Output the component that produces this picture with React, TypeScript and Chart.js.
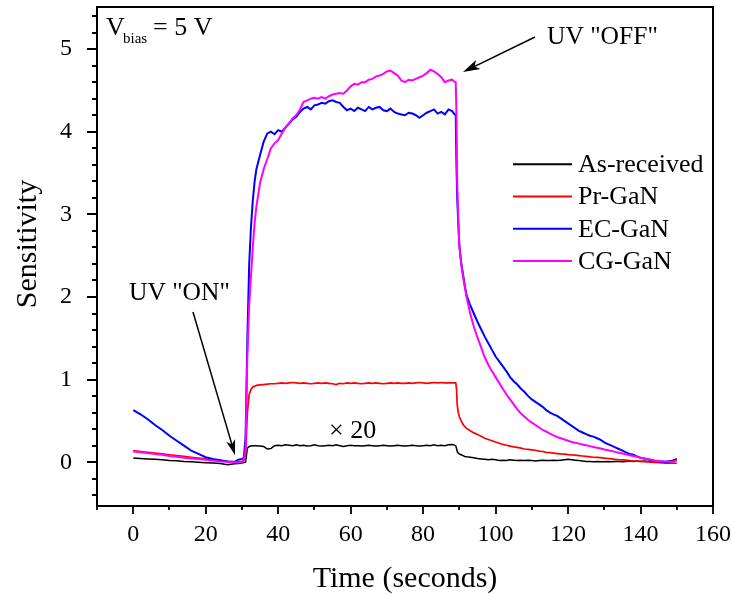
import { useEffect, useRef } from "react";
import { Chart, registerables } from "chart.js";

Chart.register(...registerables);

// ---------- data ----------
const timeSec = [
  0, 2, 4, 6, 8, 10, 12, 14, 16, 18, 20, 22, 24, 26, 28,
  29, 30, 30.5, 31, 31.5, 32, 32.5, 33, 33.5, 34,
  35, 36, 37, 38, 39, 40, 41, 42, 43, 44,
  45, 46, 47, 48, 49, 50, 51, 52, 53, 54,
  55, 56, 57, 58, 59, 60, 61, 62, 63, 64,
  65, 66, 67, 68, 69, 70, 71, 72, 73, 74,
  75, 76, 77, 78, 79, 80, 81, 82, 83, 84,
  85, 86, 87, 88,
  88.5, 89, 89.2, 89.4, 89.7, 90, 90.5, 91, 91.5, 92,
  93, 94, 95, 96, 97, 98, 99, 100, 101, 102,
  103, 104, 105, 106, 107, 108, 109, 110, 111, 112,
  113, 114, 115, 116, 117, 118, 119, 120, 121, 122,
  123, 124, 125, 126, 127, 128, 129, 130, 131, 132,
  133, 134, 135, 136, 137, 138, 139, 140, 141, 142,
  143, 144, 145, 146, 147, 148, 149, 150,
];

const asReceivedX20 = [
  0.05, 0.045, 0.04, 0.035, 0.03, 0.02, 0.018, 0.01, 0.005, 0.0, -0.005, -0.01, -0.015, -0.03, -0.02,
  -0.015, -0.01, -0.005, 0.0, 0.17, 0.19, 0.195, 0.2, 0.2, 0.2,
  0.195, 0.19, 0.16, 0.165, 0.2, 0.205, 0.2, 0.21, 0.205, 0.2,
  0.21, 0.2, 0.205, 0.195, 0.2, 0.21, 0.2, 0.195, 0.2, 0.205,
  0.2, 0.21, 0.2, 0.19, 0.2, 0.205, 0.2, 0.2, 0.195, 0.2,
  0.205, 0.2, 0.195, 0.2, 0.205, 0.2, 0.195, 0.2, 0.205, 0.2,
  0.195, 0.2, 0.205, 0.2, 0.195, 0.2, 0.205, 0.2, 0.21, 0.2,
  0.205, 0.2, 0.21, 0.215,
  0.21, 0.2, 0.17, 0.13, 0.11, 0.1, 0.09, 0.08, 0.07, 0.065,
  0.06, 0.055, 0.045, 0.04, 0.035, 0.03, 0.035, 0.03, 0.02, 0.025,
  0.02, 0.03, 0.025, 0.02, 0.025, 0.02, 0.025, 0.02, 0.015, 0.02,
  0.025, 0.02, 0.02, 0.025, 0.02, 0.025, 0.03, 0.035, 0.03, 0.025,
  0.02, 0.015, 0.01, 0.01, 0.005, 0.01, 0.005, 0.005, 0.01, 0.005,
  0.01, 0.01, 0.005, 0.01, 0.015, 0.01, 0.015, 0.01, 0.015, 0.01,
  0.015, 0.01, 0.005, 0.01, 0.01, 0.015, 0.02, 0.035,
];

const prGaN = [
  0.14, 0.13, 0.12, 0.11, 0.1, 0.09, 0.08, 0.07, 0.06, 0.05, 0.04, 0.03, 0.02, 0.01, 0.005,
  0.005, 0.01, 0.02, 0.1, 0.6, 0.82, 0.88, 0.91, 0.92, 0.93,
  0.935, 0.94, 0.945, 0.95, 0.95, 0.955, 0.96, 0.955, 0.96, 0.965,
  0.96, 0.955, 0.96, 0.955, 0.95, 0.955, 0.96, 0.955, 0.96, 0.955,
  0.95, 0.94, 0.955, 0.95, 0.96, 0.955, 0.96, 0.955, 0.95, 0.955,
  0.96, 0.955, 0.96, 0.955, 0.95, 0.955, 0.96, 0.955, 0.96, 0.955,
  0.955, 0.96, 0.955, 0.96, 0.965, 0.96, 0.955, 0.96, 0.965, 0.96,
  0.965, 0.96, 0.96, 0.96,
  0.96, 0.96, 0.9, 0.7, 0.6, 0.55, 0.5, 0.46, 0.43, 0.41,
  0.38, 0.355, 0.335, 0.315, 0.29, 0.275, 0.26, 0.245, 0.23, 0.215,
  0.205, 0.195, 0.185, 0.18, 0.17, 0.16, 0.155, 0.15, 0.145, 0.135,
  0.13, 0.12, 0.115, 0.11, 0.105, 0.1, 0.097, 0.092, 0.088, 0.085,
  0.08, 0.075, 0.07, 0.065, 0.06, 0.058, 0.055, 0.05, 0.045, 0.04,
  0.035, 0.03, 0.028, 0.025, 0.02, 0.015, 0.012, 0.01, 0.006, 0.003,
  0.0, -0.003, -0.005, -0.008, -0.01, -0.012, -0.012, -0.01,
];

const ecGaN = [
  0.63, 0.58, 0.52, 0.45, 0.39, 0.32, 0.26, 0.2, 0.14, 0.1, 0.06, 0.04, 0.025, 0.01, 0.005,
  0.03, 0.04, 0.05, 0.3, 1.5, 2.4, 2.85, 3.17, 3.4, 3.55,
  3.72, 3.88, 3.98, 4.0, 3.97, 4.02, 4.0, 4.05, 4.1, 4.15,
  4.18, 4.24, 4.28, 4.3, 4.27, 4.32, 4.33, 4.35, 4.34, 4.37,
  4.38, 4.36, 4.35, 4.3, 4.26, 4.28, 4.25, 4.29, 4.27, 4.25,
  4.3, 4.27, 4.29, 4.3, 4.26, 4.25, 4.28, 4.24, 4.22, 4.21,
  4.2, 4.23, 4.22, 4.2, 4.17, 4.2, 4.23, 4.25, 4.27, 4.22,
  4.24, 4.21, 4.27, 4.25,
  4.22, 4.2, 3.6, 3.2, 2.9, 2.62, 2.42, 2.28, 2.14, 2.02,
  1.9, 1.8, 1.7, 1.61, 1.52, 1.44, 1.36, 1.28, 1.22, 1.16,
  1.1, 1.03, 0.98, 0.94, 0.89, 0.85, 0.8, 0.76, 0.73, 0.7,
  0.67, 0.63, 0.6, 0.58, 0.56, 0.53, 0.5, 0.47, 0.44, 0.41,
  0.38, 0.36, 0.34, 0.32, 0.31, 0.29, 0.27, 0.24, 0.22, 0.2,
  0.18, 0.16, 0.14, 0.12, 0.1, 0.09, 0.07, 0.055, 0.045, 0.035,
  0.025, 0.015, 0.01, 0.005, 0.0, 0.005, 0.02, 0.04,
];

const cgGaN = [
  0.13, 0.12, 0.11, 0.1, 0.09, 0.075, 0.065, 0.055, 0.045, 0.04, 0.03, 0.02, 0.01, 0.005, 0.0,
  0.0, 0.005, 0.02, 0.15, 1.3, 1.9, 2.25, 2.6, 2.9, 3.1,
  3.38, 3.55, 3.67, 3.8, 3.86, 3.9, 3.98, 4.05, 4.1, 4.16,
  4.2, 4.27, 4.36, 4.38, 4.4, 4.41, 4.4, 4.42, 4.4, 4.43,
  4.45, 4.46, 4.47, 4.46, 4.5, 4.55, 4.58, 4.57, 4.6, 4.6,
  4.63, 4.64, 4.67, 4.68, 4.7, 4.73, 4.74, 4.71, 4.68, 4.62,
  4.6, 4.63, 4.62, 4.64, 4.66, 4.68, 4.71, 4.75, 4.73, 4.7,
  4.66, 4.6, 4.62, 4.63,
  4.61, 4.6, 4.2, 3.4, 2.95, 2.62, 2.4, 2.25, 2.12, 2.0,
  1.8, 1.64, 1.51, 1.39, 1.27, 1.18, 1.1, 1.03, 0.96, 0.89,
  0.82, 0.76, 0.7, 0.64, 0.59, 0.55, 0.51, 0.48, 0.45, 0.42,
  0.39, 0.37, 0.345, 0.325, 0.305, 0.29, 0.275, 0.26, 0.245, 0.235,
  0.225, 0.215, 0.205, 0.195, 0.185, 0.175, 0.165, 0.155, 0.145, 0.135,
  0.125, 0.115, 0.105, 0.095, 0.085, 0.075, 0.065, 0.055, 0.045, 0.04,
  0.03, 0.02, 0.015, 0.01, 0.008, 0.005, 0.01, 0.02,
];

const seriesLabels = ["As-received", "Pr-GaN", "EC-GaN", "CG-GaN"];
const xMajorTicks = [0, 20, 40, 60, 80, 100, 120, 140, 160];
const yMajorTicks = [0, 1, 2, 3, 4, 5];
const xAxisTitle = "Time (seconds)";
const yAxisTitle = "Sensitivity";

// ---------- styles ----------
const FONT = '"Liberation Serif", "Times New Roman", Times, serif';
const seriesStyles = [
  { color: "#000000", width: 1.5 },
  { color: "#ff0000", width: 1.7 },
  { color: "#0000ff", width: 2 },
  { color: "#ff00ff", width: 2 },
];

function drawArrow(ctx: CanvasRenderingContext2D, x1: number, y1: number, x2: number, y2: number, headLen: number, headHalf: number) {
  const ang = Math.atan2(y2 - y1, x2 - x1);
  const c = Math.cos(ang), s = Math.sin(ang);
  const bx = x2 - headLen * c, by = y2 - headLen * s;
  const px = -s, py = c;
  ctx.beginPath();
  ctx.moveTo(x1, y1);
  ctx.lineTo(x2 - headLen * 0.6 * c, y2 - headLen * 0.6 * s);
  ctx.stroke();
  ctx.beginPath();
  ctx.moveTo(x2, y2);
  ctx.lineTo(bx + px * headHalf, by + py * headHalf);
  ctx.lineTo(x2 - headLen * 0.75 * c, y2 - headLen * 0.75 * s);
  ctx.lineTo(bx - px * headHalf, by - py * headHalf);
  ctx.closePath();
  ctx.fill();
}

const decorPlugin = {
  id: "decor",
  afterDatasetsDraw(chart: any) {
    const { ctx, chartArea: a, scales } = chart;
    const xs = scales.x, ys = scales.y;
    const X = (v: number) => xs.getPixelForValue(v);
    const Y = (v: number) => ys.getPixelForValue(v);
    ctx.save();
    ctx.strokeStyle = "#000";
    ctx.fillStyle = "#000";

    // frame
    ctx.lineWidth = 2;
    ctx.strokeRect(a.left, a.top, a.right - a.left, a.bottom - a.top);

    // tick marks (outward, left and bottom)
    ctx.lineWidth = 1.8;
    ctx.beginPath();
    for (const v of yMajorTicks) {
      const y = Math.round(Y(v));
      ctx.moveTo(a.left - 10, y);
      ctx.lineTo(a.left, y);
    }
    for (let k = -2; k <= 27; k++) {
      if (k % 5 === 0) continue;
      const y = Math.round(Y(k * 0.2));
      ctx.moveTo(a.left - 5, y);
      ctx.lineTo(a.left, y);
    }
    for (const v of xMajorTicks) {
      const x = Math.round(X(v));
      ctx.moveTo(x, a.bottom);
      ctx.lineTo(x, a.bottom + 8);
    }
    for (let v = -10; v <= 150; v += 20) {
      const x = Math.round(X(v));
      ctx.moveTo(x, a.bottom);
      ctx.lineTo(x, a.bottom + 4);
    }
    ctx.stroke();

    // legend
    const ds = chart.data.datasets;
    ctx.font = `26px ${FONT}`;
    ctx.textAlign = "left";
    ctx.textBaseline = "middle";
    ds.forEach((d: any, i: number) => {
      const y = 164.3 + i * 32.2;
      ctx.strokeStyle = d.borderColor;
      ctx.lineWidth = 2;
      ctx.beginPath();
      ctx.moveTo(513, y);
      ctx.lineTo(572, y);
      ctx.stroke();
      ctx.fillStyle = "#000";
      ctx.fillText(d.label, 578, y + 1);
    });

    // annotations
    ctx.strokeStyle = "#000";
    ctx.fillStyle = "#000";
    ctx.textBaseline = "alphabetic";
    ctx.textAlign = "left";
    // V_bias = 5 V
    const vbx = X(-7.52), vby = Y(5.171);
    ctx.font = `26px ${FONT}`;
    ctx.fillText("V", vbx, vby);
    ctx.font = `15px ${FONT}`;
    ctx.fillText("bias", vbx + 17, vby + 8);
    ctx.font = `26px ${FONT}`;
    ctx.fillText("= 5 V", vbx + 47, vby);

    // UV "OFF"
    ctx.font = `25.5px ${FONT}`;
    ctx.fillText('UV "OFF"', X(114.19), Y(5.062));
    ctx.lineWidth = 1.5;
    drawArrow(ctx, X(110.88), Y(5.147), X(91.0), Y(4.723), 17, 5);

    // UV "ON"
    ctx.fillText('UV "ON"', X(-1.17), Y(1.964));
    drawArrow(ctx, X(16.49), Y(1.818), X(28.08), Y(0.087), 15, 4.5);

    // x 20
    ctx.font = `26px ${FONT}`;
    ctx.fillText("\u00d7 20", X(54.03), Y(0.293));

    // axis titles
    ctx.font = `30px ${FONT}`;
    ctx.textAlign = "center";
    ctx.fillText(xAxisTitle, (a.left + a.right) / 2, 587);
    ctx.save();
    ctx.translate(28, 244);
    ctx.rotate(-Math.PI / 2);
    ctx.textBaseline = "middle";
    ctx.fillText(yAxisTitle, 0, 0);
    ctx.restore();

    ctx.restore();
  },
};

export default function App() {
  const canvasRef = useRef<HTMLCanvasElement | null>(null);

  useEffect(() => {
    const canvas = canvasRef.current;
    if (!canvas) return;
    const allSeries = [asReceivedX20, prGaN, ecGaN, cgGaN];
    const chart = new Chart(canvas, {
      type: "line",
      data: {
        datasets: allSeries.map((vals, i) => ({
          label: seriesLabels[i],
          data: timeSec.map((t, j) => ({ x: t, y: vals[j] })),
          borderColor: seriesStyles[i].color,
          backgroundColor: seriesStyles[i].color,
          borderWidth: seriesStyles[i].width,
          pointRadius: 0,
          tension: 0,
          fill: false,
          order: 3 - i,
        })),
      },
      options: {
        responsive: false,
        animation: false,
        layout: { padding: { left: 0, right: 21, top: 7, bottom: 0 } },
        plugins: { legend: { display: false }, tooltip: { enabled: false } },
        scales: {
          x: {
            type: "linear",
            min: -10,
            max: 160,
            grid: { display: false },
            border: { display: false },
            ticks: { font: { family: FONT, size: 24 }, color: "#000", padding: 6, maxRotation: 0 },
            afterBuildTicks: (s: any) => {
              s.ticks = xMajorTicks.map((v) => ({ value: v }));
            },
            afterFit: (s: any) => {
              s.height = 88;
              s.paddingLeft = 0;
              s.paddingRight = 0;
              s.paddingTop = 0;
              s.paddingBottom = 0;
            },
          },
          y: {
            type: "linear",
            min: -0.53,
            max: 5.51,
            grid: { display: false },
            border: { display: false },
            ticks: { font: { family: FONT, size: 24 }, color: "#000", padding: 17 },
            afterBuildTicks: (s: any) => {
              s.ticks = yMajorTicks.map((v) => ({ value: v }));
            },
            afterFit: (s: any) => {
              s.width = 97;
              s.paddingLeft = 0;
              s.paddingRight = 0;
              s.paddingTop = 0;
              s.paddingBottom = 0;
            },
          },
        },
      },
      plugins: [decorPlugin],
    } as any);
    return () => chart.destroy();
  }, []);

  return (
    <div style={{ position: "fixed", left: 0, top: 0, width: 734, height: 594, background: "#fff" }}>
      <canvas ref={canvasRef} width={734} height={594} style={{ display: "block" }} />
    </div>
  );
}
